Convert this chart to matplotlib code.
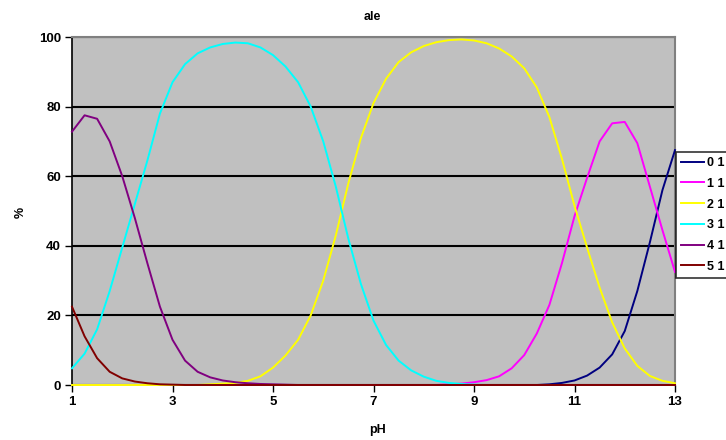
import numpy as np
import matplotlib
matplotlib.use("Agg")
import matplotlib.pyplot as plt

plt.rcParams['font.family'] = ['Liberation Sans', 'DejaVu Sans']
plt.rcParams['font.weight'] = 'bold'

# pH grid, 0.25 steps from 1 to 13
ph = np.linspace(1, 13, 49)

# species distribution in %
s01 = [0, 0, 0, 0, 0, 0, 0, 0, 0, 0, 0, 0, 0, 0, 0, 0, 0, 0, 0, 0, 0, 0, 0, 0, 0,
       0, 0, 0, 0, 0, 0, 0, 0, 0, 0, 0, 0, 0, 0.2, 0.6, 1.3, 2.7, 5.0, 8.8, 15.5,
       27.0, 41.0, 56.0, 67.5]
s11 = [0, 0, 0, 0, 0, 0, 0, 0, 0, 0, 0, 0, 0, 0, 0, 0, 0, 0, 0, 0, 0, 0, 0, 0, 0,
       0, 0, 0, 0, 0, 0.2, 0.4, 0.8, 1.4, 2.5, 4.8, 8.6, 14.8, 23.0, 35.0, 48.5,
       59.5, 70.0, 75.2, 75.6, 69.5, 57.0, 44.5, 32.5]
s21 = [0, 0, 0, 0, 0, 0, 0, 0, 0, 0, 0, 0.2, 0.4, 0.6, 1.2, 2.5, 5.0, 8.5, 13.0,
       20.0, 30.0, 43.0, 58.0, 71.0, 81.0, 88.0, 92.8, 95.6, 97.4, 98.5, 99.1,
       99.3, 99.0, 98.2, 96.7, 94.4, 91.0, 85.5, 77.0, 65.0, 51.5, 39.5, 28.0,
       18.0, 10.5, 5.5, 2.6, 1.2, 0.5]
s31 = [4.8, 9.0, 16.0, 27.0, 39.5, 52.0, 64.5, 78.0, 87.0, 92.2, 95.3, 97.0, 98.0,
       98.4, 98.2, 97.0, 94.8, 91.5, 87.0, 80.0, 70.0, 57.0, 42.0, 29.0, 18.5,
       11.5, 7.0, 4.2, 2.4, 1.2, 0.6, 0.3, 0.1, 0, 0, 0, 0, 0, 0, 0, 0, 0, 0, 0,
       0, 0, 0, 0, 0]
s41 = [72.8, 77.5, 76.5, 70.0, 60.0, 48.0, 35.0, 22.5, 13.0, 7.0, 3.8, 2.2, 1.3,
       0.8, 0.5, 0.3, 0.2, 0.1, 0, 0, 0, 0, 0, 0, 0, 0, 0, 0, 0, 0, 0, 0, 0, 0, 0,
       0, 0, 0, 0, 0, 0, 0, 0, 0, 0, 0, 0, 0, 0]
s51 = [22.5, 14.0, 7.7, 3.8, 1.9, 1.0, 0.5, 0.2, 0.1, 0, 0, 0, 0, 0, 0, 0, 0, 0, 0,
       0, 0, 0, 0, 0, 0, 0, 0, 0, 0, 0, 0, 0, 0, 0, 0, 0, 0, 0, 0, 0, 0, 0, 0, 0,
       0, 0, 0, 0, 0]

names = ["0 1", "1 1", "2 1", "3 1", "4 1", "5 1"]
series = [s01, s11, s21, s31, s41, s51]
colors = ["#000080", "#FF00FF", "#FFFF00", "#00FFFF", "#800080", "#800000"]

W, H = 726, 440
fig = plt.figure(figsize=(W / 100, H / 100), dpi=100)
ax = fig.add_axes([72 / W, 55 / H, 603 / W, 348 / H])
ax.set_facecolor("#C0C0C0")
ax.set_axisbelow(True)

for name, vals, c in zip(names, series, colors):
    ax.plot(ph, vals, color=c, lw=1.4, label=name, clip_on=False, zorder=3,
            solid_joinstyle="round")

ax.set_xlim(1, 13)
ax.set_ylim(0, 100)
ax.set_xticks(range(1, 14, 2))
ax.set_yticks(range(0, 101, 20))
ax.yaxis.grid(True, color="black", lw=1.5)

for side in ["top", "right"]:
    ax.spines[side].set_color("#808080")
    ax.spines[side].set_linewidth(1.5)
for side in ["left", "bottom"]:
    ax.spines[side].set_color("black")
    ax.spines[side].set_linewidth(1.2)

ax.tick_params(direction="out", length=5, width=1, pad=3, labelsize=9.5)

fig.text(372 / W, 1 - 17 / H, "ale", ha="center", va="center", fontsize=9, fontweight="bold")
fig.text(378 / W, 1 - 430 / H, "pH", ha="center", va="center", fontsize=9, fontweight="bold")
fig.text(21 / W, 1 - 212 / H, "%", ha="center", va="center", rotation=90,
         fontsize=9, fontweight="bold")

leg = fig.legend(loc="upper left", bbox_to_anchor=(676 / W, 1 - 152 / H),
                 fontsize=9, frameon=True, fancybox=False, edgecolor="black",
                 handlelength=1.8, handletextpad=0.3, labelspacing=0.7,
                 borderpad=0.4, borderaxespad=0)
leg.get_frame().set_linewidth(1.2)
leg.get_frame().set_facecolor("white")

fig.savefig("out.png", dpi=100)
